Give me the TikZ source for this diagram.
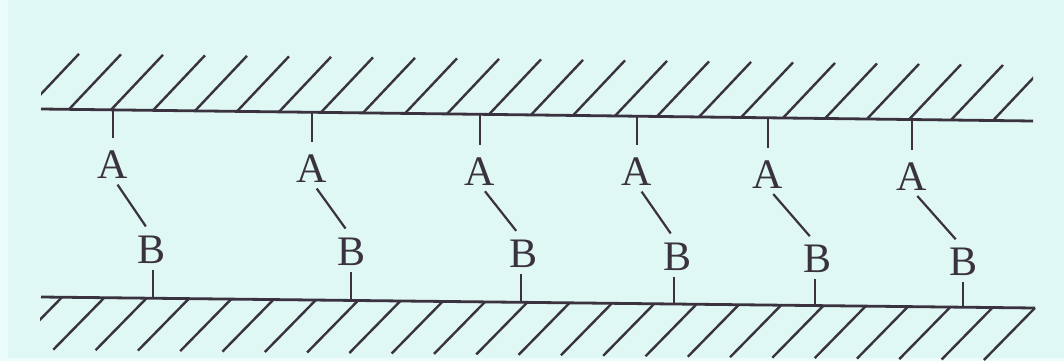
\documentclass[tikz,border=0pt]{standalone}
\usepackage{fontspec}
\setmainfont{Liberation Serif}
\usetikzlibrary{calc}
\definecolor{bgc}{RGB}{223,248,244}
\definecolor{bgl}{RGB}{236,252,250}
\definecolor{ink}{RGB}{58,50,62}
\tikzset{
  wall/.style={draw=ink, line width=2.8pt},
  hatch/.style={draw=ink, line width=2.4pt},
  tick/.style={draw=ink, line width=2.4pt},
  link/.style={draw=ink, line width=2.2pt, shorten <=8pt, shorten >=11pt},
  lab/.style={inner sep=0pt, outer sep=0pt, anchor=base, text=ink,
    font=\fontsize{42}{46}\selectfont}
}
\begin{document}
\begin{tikzpicture}[x=1pt,y=-1pt]
\useasboundingbox (0,0) rectangle (1064,361);
\fill[bgc] (0,0) rectangle (1064,361);
\fill[bgl] (0,0) rectangle (8,361);
\fill[bgl] (0,358) rectangle (1064,361);
% walls
\coordinate (TL) at (41,109);
\coordinate (TR) at (1033,121);
\coordinate (BL) at (41,297);
\coordinate (BR) at (1035,308);
\begin{scope}
\clip (41,0) rectangle (1033,200);
\foreach \k in {0,...,23}
  \draw[hatch] ($(TL)!{(27+42*\k-41)/992}!(TR)$) -- ++(52,-55);
\end{scope}
\begin{scope}
\clip (40,200) rectangle (1036,361);
\foreach \k in {0,...,23}
  \draw[hatch] ($(BL)!{(62+42.3*\k-41)/994}!(BR)$) -- ++(-51,52);
\end{scope}
\draw[wall] (TL) -- (TR);
\draw[wall] (BL) -- (BR);
% labels and connectors
\foreach \i/\ax/\ay/\bx/\by/\dx in {1/113/178/152/263/153, 2/312/182/352/265/351,
   3/480/185/523/267/521, 4/637/185/677/270/674, 5/768/188/817/272/815,
   6/912/190/963/275/963} {
  \node[lab] (A\i) at (\ax,\ay) {A};
  \node[lab] (B\i) at (\bx,\by) {B};
  \coordinate (T\i) at ($(TL)!{(\ax-41)/992}!(TR)$);
  \coordinate (D\i) at ($(BL)!{(\dx-41)/994}!(BR)$);
  \draw[tick, shorten >=12pt] (T\i) -- (T\i |- A\i.north);
  \draw[link] (A\i.south) -- (B\i.north);
  \draw[tick, shorten <=7pt] (D\i |- B\i.south) -- (D\i);
}
\end{tikzpicture}
\end{document}
